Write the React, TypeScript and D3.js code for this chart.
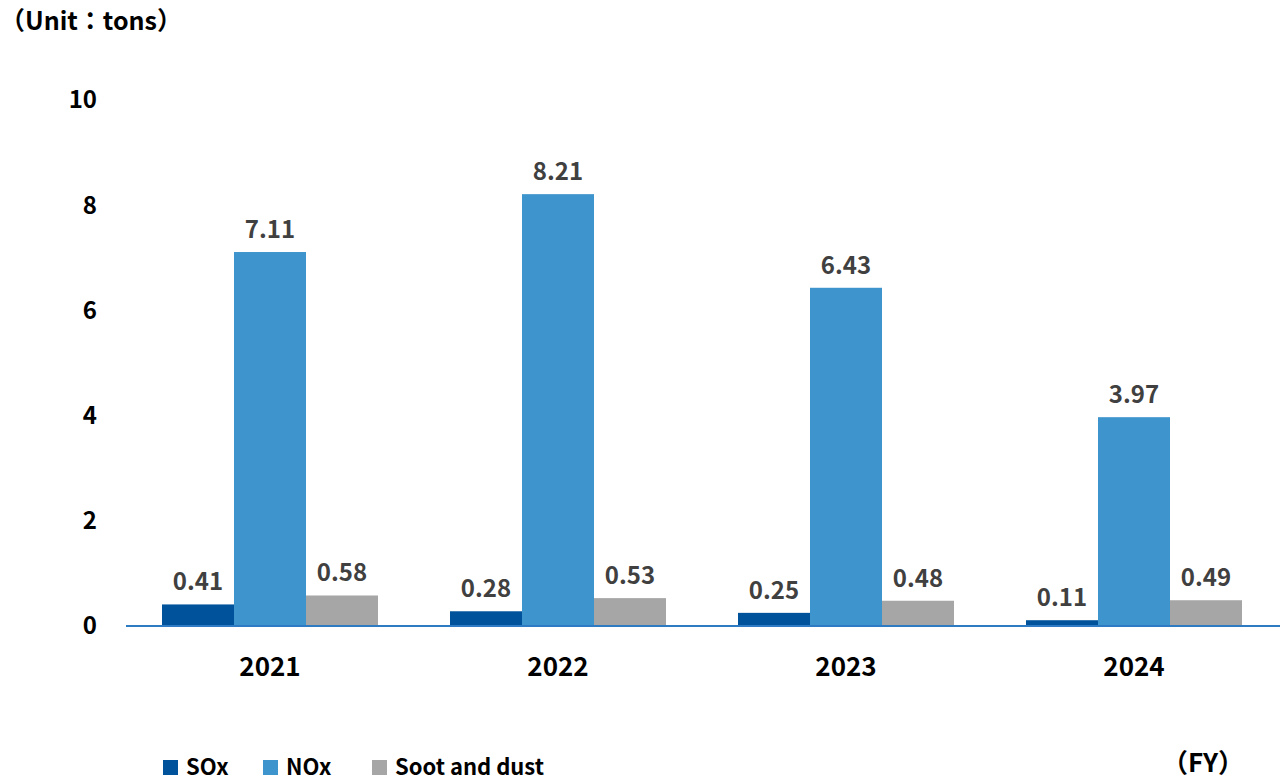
import React, { useEffect, useRef } from 'react';
import * as d3 from 'd3';

const years = ['2021', '2022', '2023', '2024'];
const seriesNames = ['SOx', 'NOx', 'Soot and dust'];
const soxValues = [0.41, 0.28, 0.25, 0.11];
const noxValues = [7.11, 8.21, 6.43, 3.97];
const sootValues = [0.58, 0.53, 0.48, 0.49];
const yTicks = [0, 2, 4, 6, 8, 10];

const COLORS = ['#00539A', '#3E95CD', '#A6A6A6'];
const FONT = "'Noto Sans CJK JP', 'Noto Sans', sans-serif";

const W = 1280;
const H = 782;

const App: React.FC = () => {
  const svgRef = useRef<SVGSVGElement>(null);

  useEffect(() => {
    if (!svgRef.current) return;
    document.body.style.margin = '0';

    const svg = d3.select(svgRef.current);
    svg.selectAll('*').remove();

    const margin = { left: 126, right: 2, top: 100, bottom: 156 };
    const plotBottom = H - margin.bottom;

    const x0 = d3.scaleBand<string>()
      .domain(years)
      .range([margin.left, W - margin.right])
      .paddingInner(0.25)
      .paddingOuter(0.125);

    const x1 = d3.scaleBand<string>()
      .domain(seriesNames)
      .range([0, x0.bandwidth()])
      .padding(0);

    const y = d3.scaleLinear().domain([0, 10]).range([plotBottom, margin.top]);

    const series = [soxValues, noxValues, sootValues];

    // Unit label
    svg.append('text')
      .attr('x', 0)
      .attr('y', 30)
      .style('font-family', FONT)
      .style('font-weight', 700)
      .style('font-size', '25px')
      .style('fill', '#000')
      .text('（Unit：tons）');

    // Y tick labels
    svg.append('g')
      .selectAll('text')
      .data(yTicks)
      .enter()
      .append('text')
      .attr('x', 97)
      .attr('y', d => y(d))
      .attr('dy', '0.35em')
      .attr('text-anchor', 'end')
      .style('font-family', FONT)
      .style('font-weight', 700)
      .style('font-size', '24px')
      .style('fill', '#000')
      .text(d => d);

    // Bars
    const groups = svg.append('g')
      .selectAll('g')
      .data(years)
      .enter()
      .append('g')
      .attr('transform', d => `translate(${x0(d)},0)`);

    seriesNames.forEach((name, si) => {
      groups.append('rect')
        .attr('x', () => x1(name)!)
        .attr('y', (_, i) => y(series[si][i]))
        .attr('width', x1.bandwidth())
        .attr('height', (_, i) => plotBottom - y(series[si][i]))
        .attr('fill', COLORS[si]);

      groups.append('text')
        .attr('x', () => x1(name)! + x1.bandwidth() / 2)
        .attr('y', (_, i) => y(series[si][i]) - 14)
        .attr('text-anchor', 'middle')
        .style('font-family', FONT)
        .style('font-weight', 700)
        .style('font-size', '24px')
        .style('fill', '#404040')
        .text((_, i) => series[si][i].toFixed(2));
    });

    // Baseline
    svg.append('line')
      .attr('x1', margin.left)
      .attr('x2', W)
      .attr('y1', plotBottom)
      .attr('y2', plotBottom)
      .attr('stroke', '#2E7BC4')
      .attr('stroke-width', 2);

    // Category labels
    svg.append('g')
      .selectAll('text')
      .data(years)
      .enter()
      .append('text')
      .attr('x', d => x0(d)! + x0.bandwidth() / 2)
      .attr('y', plotBottom + 50)
      .attr('text-anchor', 'middle')
      .style('font-family', FONT)
      .style('font-weight', 700)
      .style('font-size', '26px')
      .style('fill', '#000')
      .text(d => d);

    // FY label
    svg.append('text')
      .attr('x', 1162)
      .attr('y', 772)
      .style('font-family', FONT)
      .style('font-weight', 700)
      .style('font-size', '26px')
      .style('fill', '#000')
      .text('（FY）');

    // Legend
    const legendX = [163, 263, 372];
    const legend = svg.append('g')
      .selectAll('g')
      .data(seriesNames)
      .enter()
      .append('g')
      .attr('transform', (_, i) => `translate(${legendX[i]},0)`);

    legend.append('rect')
      .attr('x', 0)
      .attr('y', 760)
      .attr('width', 15)
      .attr('height', 15)
      .attr('fill', (_, i) => COLORS[i]);

    legend.append('text')
      .attr('x', 23)
      .attr('y', 775)
      .style('font-family', FONT)
      .style('font-weight', 700)
      .style('font-size', '22px')
      .style('fill', '#000')
      .text(d => d);
  }, []);

  return (
    <svg
      ref={svgRef}
      width={W}
      height={H}
      style={{ display: 'block', position: 'absolute', left: 0, top: 0, background: '#fff' }}
    />
  );
};

export default App;
